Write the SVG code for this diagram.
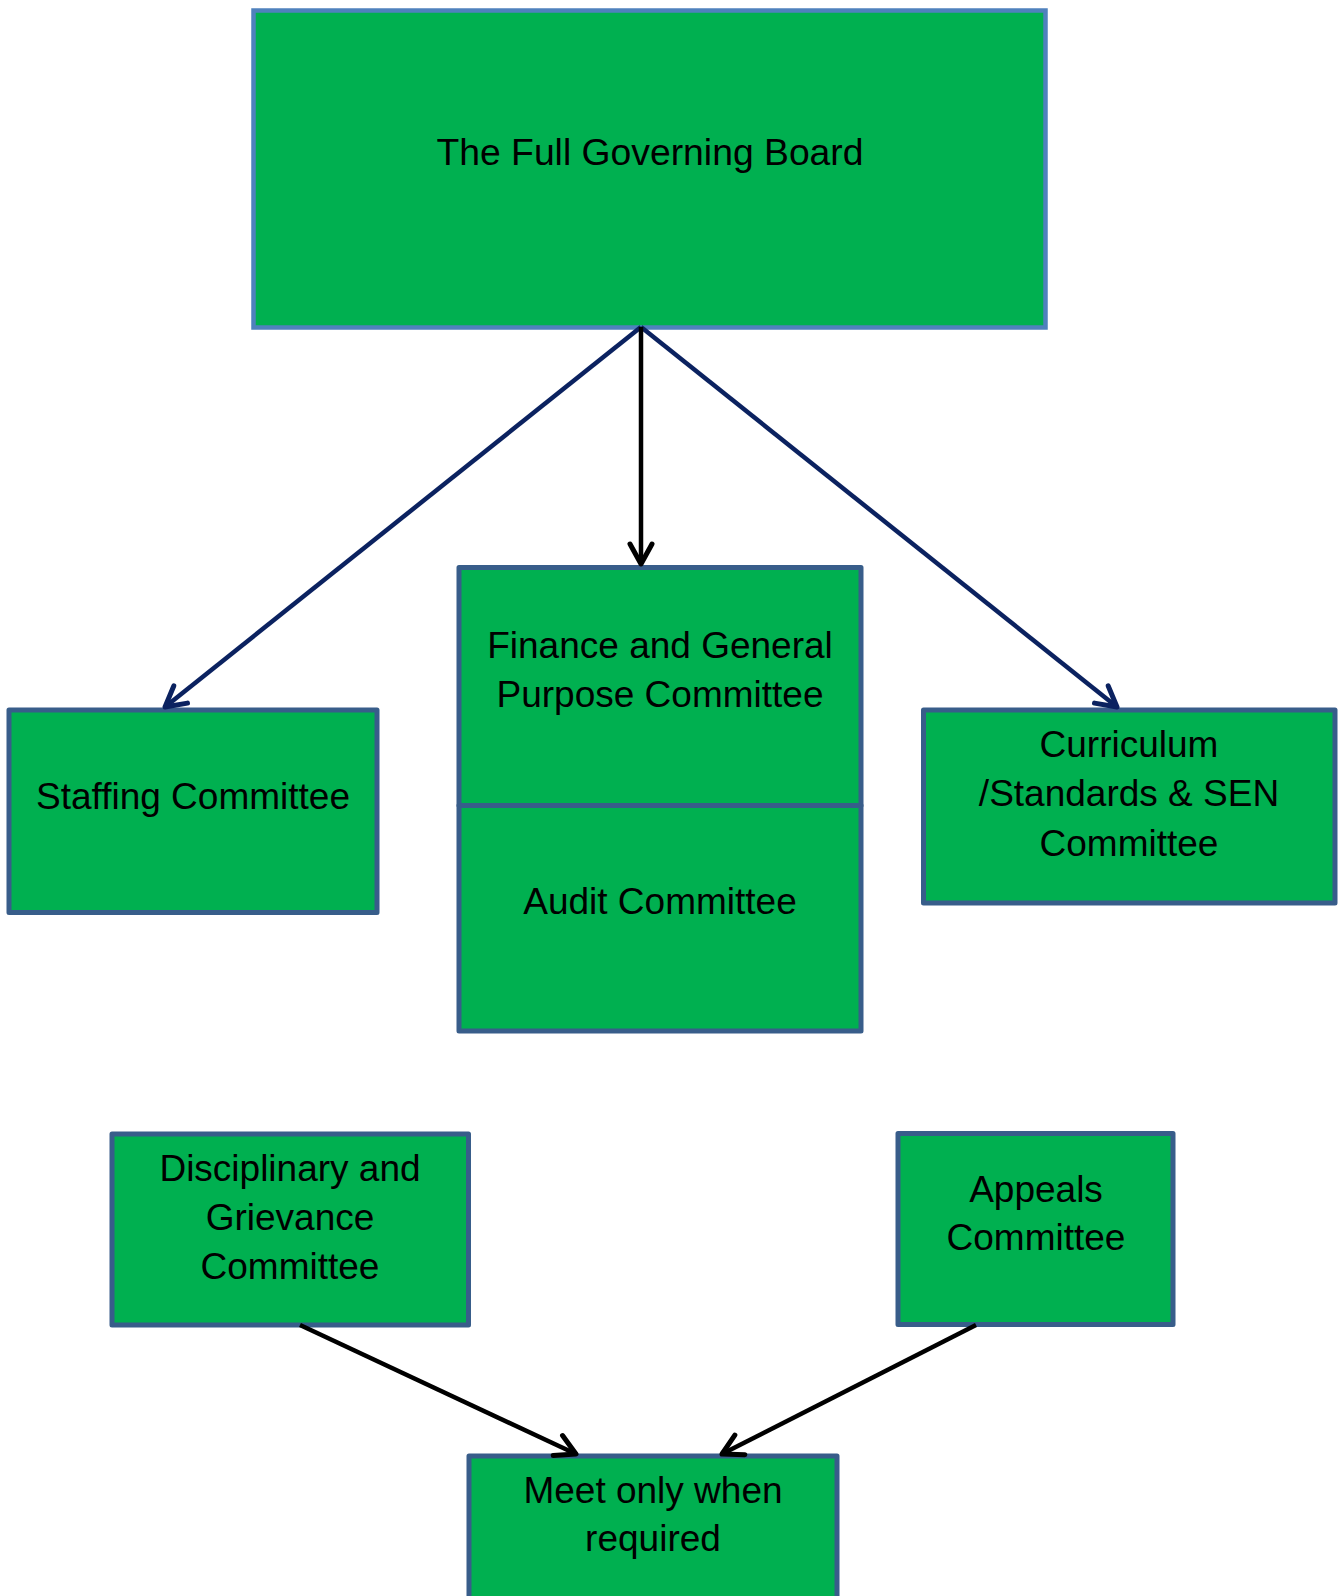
<svg xmlns="http://www.w3.org/2000/svg" width="1344" height="1596" viewBox="0 0 1344 1596">
<style>
.box{fill:#00B050;stroke:#385D8A;stroke-width:5;stroke-linejoin:round}
.top{fill:#00B050;stroke:#4F81BD;stroke-width:4.5}
text{font-family:"Liberation Sans",Arial,sans-serif;font-size:37px;fill:#000;text-anchor:middle}
.navy{stroke:#0B2260;stroke-width:4.5;fill:none}
.blk{stroke:#000;stroke-width:4.5;fill:none}
</style>
<defs>
<marker id="an" viewBox="-30 -20 40 40" markerWidth="40" markerHeight="40" refX="0" refY="0" orient="auto" markerUnits="userSpaceOnUse">
<path d="M-20,-11 L0,0 L-20,11" fill="none" stroke="#0B2260" stroke-width="5" stroke-linecap="round" stroke-linejoin="round"/>
</marker>
<marker id="ab" viewBox="-30 -20 40 40" markerWidth="40" markerHeight="40" refX="0" refY="0" orient="auto" markerUnits="userSpaceOnUse">
<path d="M-20,-11 L0,0 L-20,11" fill="none" stroke="#000" stroke-width="5" stroke-linecap="round" stroke-linejoin="round"/>
</marker>
</defs>
<g id="board">
<rect class="top" x="253.5" y="10.5" width="792" height="317"/>
<text x="650" y="165" style="font-size:37.3px">The Full Governing Board</text>
</g>
<g id="staffing">
<rect class="box" x="9" y="710" width="368" height="202.5"/>
<text x="193" y="809">Staffing Committee</text>
</g>
<g id="finance">
<rect class="box" x="459" y="567.5" width="402" height="238"/>
<text x="660" y="658">Finance and General</text>
<text x="660" y="707">Purpose Committee</text>
</g>
<g id="audit">
<rect class="box" x="459" y="805.5" width="402" height="225.5"/>
<text x="660" y="914">Audit Committee</text>
</g>
<g id="curriculum">
<rect class="box" x="923.5" y="710" width="411.5" height="193"/>
<text x="1129" y="757">Curriculum</text>
<text x="1129" y="806">/Standards &amp; SEN</text>
<text x="1129" y="856">Committee</text>
</g>
<g id="disciplinary">
<rect class="box" x="112" y="1134" width="356.5" height="191"/>
<text x="290" y="1181">Disciplinary and</text>
<text x="290" y="1230">Grievance</text>
<text x="290" y="1279">Committee</text>
</g>
<g id="appeals">
<rect class="box" x="898" y="1133.5" width="275" height="191"/>
<text x="1036" y="1202">Appeals</text>
<text x="1036" y="1250">Committee</text>
</g>
<g id="meet">
<rect class="box" x="469" y="1456" width="368" height="160"/>
<text x="653" y="1503">Meet only when</text>
<text x="653" y="1551">required</text>
</g>
<g id="connectors">
<line class="navy" x1="641" y1="327" x2="165" y2="707" marker-end="url(#an)"/>
<line class="navy" x1="641" y1="327" x2="1117" y2="707" marker-end="url(#an)"/>
<line class="blk" x1="641" y1="327" x2="641" y2="564" marker-end="url(#ab)"/>
<line class="blk" x1="300" y1="1325" x2="576" y2="1454" marker-end="url(#ab)"/>
<line class="blk" x1="976" y1="1325" x2="722" y2="1454" marker-end="url(#ab)"/>
</g>
</svg>
